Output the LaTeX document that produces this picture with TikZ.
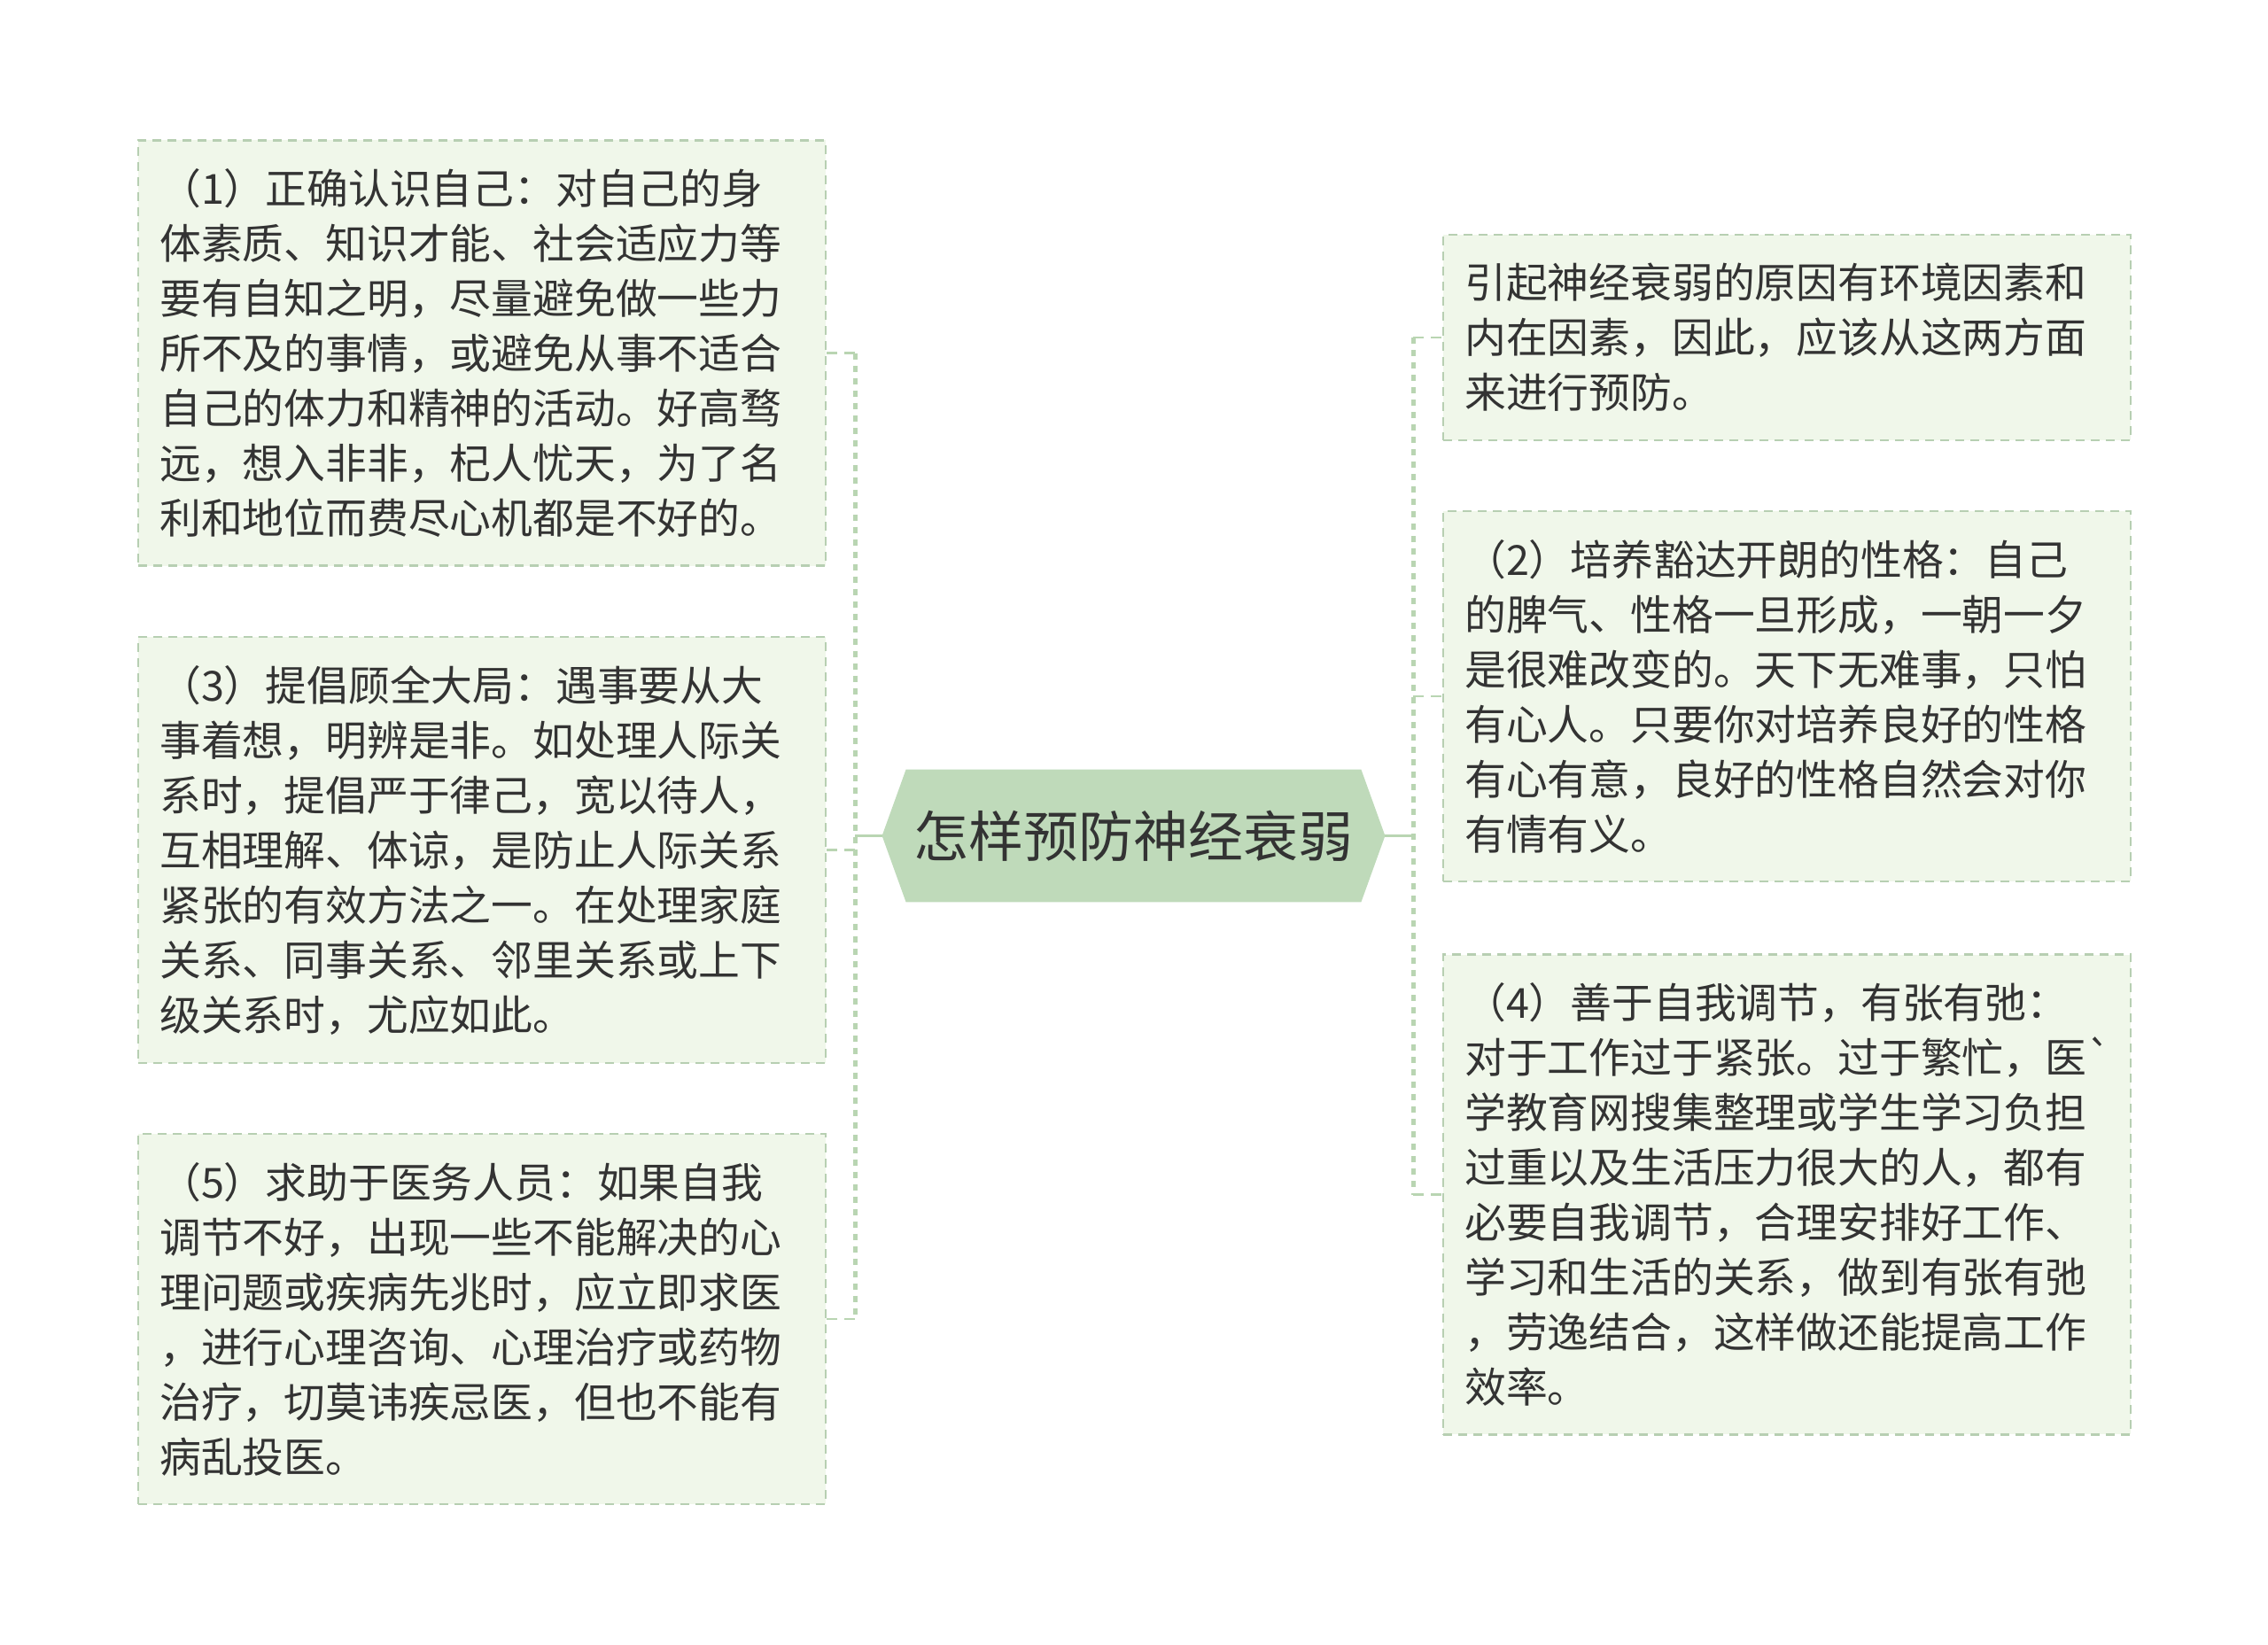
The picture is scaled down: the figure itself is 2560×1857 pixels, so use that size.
\documentclass[tikz,border=0pt]{standalone}
\usepackage{fontspec}
\setmainfont{Noto Sans CJK SC}
\newfontfamily\rawfont{Noto Sans CJK SC}[Ligatures=TeXOff]
\usetikzlibrary{backgrounds}

\definecolor{boxfill}{HTML}{F0F7EA}
\definecolor{boxline}{HTML}{B7CFB2}
\definecolor{rootfill}{HTML}{BFDABA}
\definecolor{linkline}{HTML}{B9D5B2}
\definecolor{txt}{HTML}{333333}

\tikzset{
    topic/.style={draw=boxline, fill=boxfill, line width=1.2pt,
        dash pattern=on 5pt off 3.5pt, anchor=west,
        text width=364pt, align=left, inner xsep=12pt, inner ysep=16pt,
        text=txt, font=\fontsize{23.4pt}{31pt}\selectfont},
    root/.style={minimum width=283.5pt, minimum height=74.5pt,
        inner sep=0pt, text=txt, font=\fontsize{31pt}{37pt}\selectfont},
    stem/.style={draw=linkline, line width=1.5pt},
    trunk/.style={draw=linkline, line width=2.5pt, dash pattern=on 3.5pt off 3.5pt},
    branch/.style={draw=linkline, line width=1.2pt, dash pattern=on 6pt off 4pt},
}

\begin{document}
\begin{tikzpicture}[x=0.5pt, y=-0.5pt]
    \useasboundingbox (0,0) rectangle (2560,1857);

    % ~~~ centre topic ~~~~~~~~~~~~~~~~~~~~~~~~~~~~~~~~~~
    \node[root] (root) at (1279.5,943.5) {怎样预防神经衰弱};
    \begin{scope}[on background layer]
        \fill[rootfill] (root.west) -- ([xshift=13.5pt]root.north west)
            -- ([xshift=-13.5pt]root.north east) -- (root.east)
            -- ([xshift=-13.5pt]root.south east)
            -- ([xshift=13.5pt]root.south west) -- cycle;
    \end{scope}

    % ~~~ left topics ~~~~~~~~~~~~~~~~~~~~~~~~~~~~~~~~~~~
    \node[topic] (b1) at (155,398.5) {（1）正确认识自己：对自己的身\\
        体素质、知识才能、社会适应力等\\
        要有自知之明，尽量避免做一些力\\
        所不及的事情，或避免从事不适合\\
        自己的体力和精神的活动。好高骛\\
        远，想入非非，杞人忧天，为了名\\
        利和地位而费尽心机都是不好的。};
    \node[topic] (b3) at (155,959.5) {（3）提倡顾全大局：遇事要从大\\
        事着想，明辨是非。如处理人际关\\
        系时，提倡严于律己，宽以待人，\\
        互相理解、体谅，是防止人际关系\\
        紧张的有效方法之一。在处理家庭\\
        关系、同事关系、邻里关系或上下\\
        级关系时，尤应如此。};
    \node[topic] (b5) at (155,1489) {（5）求助于医务人员：如果自我\\
        调节不好，出现一些不能解决的心\\
        理问题或疾病先兆时，应立即求医\\
        ，进行心理咨询、心理治疗或药物\\
        治疗，切莫讳疾忌医，但也不能有\\
        病乱投医。};

    % ~~~ right topics ~~~~~~~~~~~~~~~~~~~~~~~~~~~~~~~~~~
    \node[topic] (r0) at (1628,381) {引起神经衰弱的原因有环境因素和\\
        内在因素，因此，应该从这两方面\\
        来进行预防。};
    \node[topic] (r2) at (1628,786) {（2）培养豁达开朗的性格：自己\\
        的脾气、性格一旦形成，一朝一夕\\
        是很难改变的。天下无难事，只怕\\
        有心人。只要你对培养良好的性格\\
        有心有意，良好的性格自然会对你\\
        有情有义。};
    \node[topic] (r4) at (1628,1348.5) {（4）善于自我调节，有张有弛：\\
        对于工作过于紧张。过于繁忙，医{\rawfont\symbol{96}}\\
        学教育网搜集整理或学生学习负担\\
        过重以及生活压力很大的人，都有\\
        必要自我调节，合理安排好工作、\\
        学习和生活的关系，做到有张有弛\\
        ，劳逸结合，这样做还能提高工作\\
        效率。};

    % ~~~ connectors ~~~~~~~~~~~~~~~~~~~~~~~~~~~~~~~~~~~~
    \coordinate (ltrunk) at (965,943.5);
    \coordinate (rtrunk) at (1595,943.5);
    \draw[stem] (root.west) -- (ltrunk);
    \draw[stem] (root.east) -- (rtrunk);
    \draw[trunk] (ltrunk |- b1.east) -- (ltrunk |- b5.east);
    \draw[trunk] (rtrunk |- r0.west) -- (rtrunk |- r4.west);
    \foreach \nd in {b1,b3,b5}
        \draw[branch] (ltrunk |- \nd.east) -- (\nd.east);
    \foreach \nd in {r0,r2,r4}
        \draw[branch] (rtrunk |- \nd.west) -- (\nd.west);
\end{tikzpicture}
\end{document}
